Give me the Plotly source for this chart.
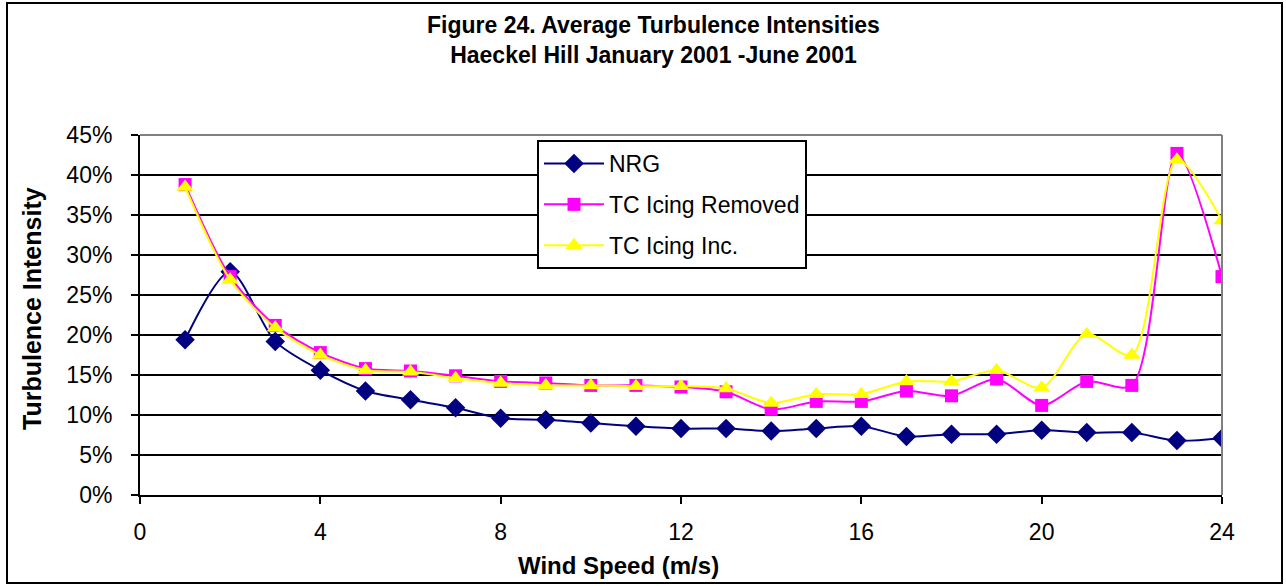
import plotly.graph_objects as go

wind_speed = list(range(1, 25))
nrg = [19.4, 27.9, 19.2, 15.6, 13.0, 11.9, 10.9, 9.6, 9.4, 9.0, 8.6, 8.3,
       8.3, 8.0, 8.3, 8.6, 7.3, 7.6, 7.6, 8.1, 7.8, 7.8, 6.8, 7.1]
tc_icing_removed = [38.8, 27.3, 21.2, 17.8, 15.8, 15.5, 14.9, 14.2, 14.0, 13.7, 13.7, 13.5,
                    12.9, 10.7, 11.7, 11.7, 13.0, 12.4, 14.5, 11.2, 14.2, 13.7, 42.7, 27.3]
tc_icing_inc = [38.5, 26.9, 20.9, 17.5, 15.6, 15.4, 14.6, 14.0, 13.7, 13.7, 13.6, 13.6,
                13.3, 11.5, 12.6, 12.6, 14.2, 14.2, 15.6, 13.4, 20.1, 17.5, 41.9, 34.3]
x_ticks = [0, 4, 8, 12, 16, 20, 24]
y_ticks = [0, 5, 10, 15, 20, 25, 30, 35, 40, 45]

FONT = "Arial, 'Liberation Sans', sans-serif"
W, H = 1286, 586
L, R, T, B = 140, 1286 - 1222, 135, 586 - 495
PW, PH = W - L - R, H - T - B

def px(xp):
    return (xp - L) / PW

def py(yp):
    return (H - B - yp) / PH

fig = go.Figure()
fig.add_trace(go.Scatter(
    x=wind_speed, y=nrg, name="NRG", mode="lines+markers", legendgroup="a",
    line=dict(color="#000080", width=2, shape="spline", smoothing=0.8),
    marker=dict(symbol="diamond", size=15, color="#000080")))
fig.add_trace(go.Scatter(
    x=wind_speed, y=tc_icing_removed, name="TC Icing Removed", mode="lines+markers", legendgroup="b",
    line=dict(color="#FF00FF", width=2, shape="spline", smoothing=0.8),
    marker=dict(symbol="square", size=13, color="#FF00FF")))
fig.add_trace(go.Scatter(
    x=wind_speed, y=tc_icing_inc, name="TC Icing Inc.", mode="lines+markers", legendgroup="c",
    line=dict(color="#FFFF00", width=2, shape="spline", smoothing=0.8),
    marker=dict(symbol="triangle-up", size=15, color="#FFFF00")))

shapes = [
    dict(type="rect", xref="paper", yref="paper", x0=px(7), x1=px(1282), y0=py(3), y1=py(583),
         line=dict(color="black", width=2), fillcolor="rgba(0,0,0,0)", layer="above"),
    dict(type="line", xref="paper", yref="paper", x0=0, x1=1, y0=1, y1=1,
         line=dict(color="#808080", width=2), layer="above"),
    dict(type="line", xref="paper", yref="paper", x0=1, x1=1, y0=0, y1=1,
         line=dict(color="#808080", width=2), layer="above"),
]

annotations = [
    dict(text="<b>Figure 24. Average Turbulence Intensities<br>Haeckel Hill January 2001 -June 2001</b>",
         xref="paper", yref="paper", x=px(653), y=py(40), xanchor="center", yanchor="middle",
         showarrow=False, font=dict(family=FONT, size=23, color="black")),
    dict(text="<b>Wind Speed (m/s)</b>", xref="paper", yref="paper", x=px(618), y=py(565),
         xanchor="center", yanchor="middle", showarrow=False,
         font=dict(family=FONT, size=24, color="black")),
    dict(text="<b>Turbulence Intensity</b>", xref="paper", yref="paper", x=px(32), y=py(309),
         xanchor="center", yanchor="middle", textangle=-90, showarrow=False,
         font=dict(family=FONT, size=25, color="black")),
]

fig.update_layout(
    width=W, height=H,
    margin=dict(l=L, r=R, t=T, b=B),
    paper_bgcolor="white", plot_bgcolor="white",
    font=dict(family=FONT, size=23, color="black"),
    showlegend=True,
    legend=dict(x=px(537), y=py(140), xanchor="left", yanchor="top",
                bgcolor="white", bordercolor="black", borderwidth=2,
                font=dict(family=FONT, size=23, color="black"),
                itemwidth=60, tracegroupgap=8, traceorder="grouped"),
    shapes=shapes,
    annotations=annotations,
    xaxis=dict(range=[0, 24], tickvals=x_ticks, ticktext=[str(v) for v in x_ticks],
               showgrid=False, zeroline=False, showline=True, linecolor="black", linewidth=2,
               ticks="outside", ticklen=7, tickwidth=2, tickcolor="black",
               ticklabelstandoff=8, tickfont=dict(family=FONT, size=23, color="black")),
    yaxis=dict(range=[0, 45], tickvals=y_ticks, ticktext=[f"{v}%" for v in y_ticks],
               showgrid=True, gridcolor="black", gridwidth=1.5, zeroline=False,
               showline=True, linecolor="black", linewidth=2,
               ticks="outside", ticklen=7, tickwidth=2, tickcolor="black",
               ticklabelstandoff=14, tickfont=dict(family=FONT, size=23, color="black")),
)

fig.write_html("out.html")
